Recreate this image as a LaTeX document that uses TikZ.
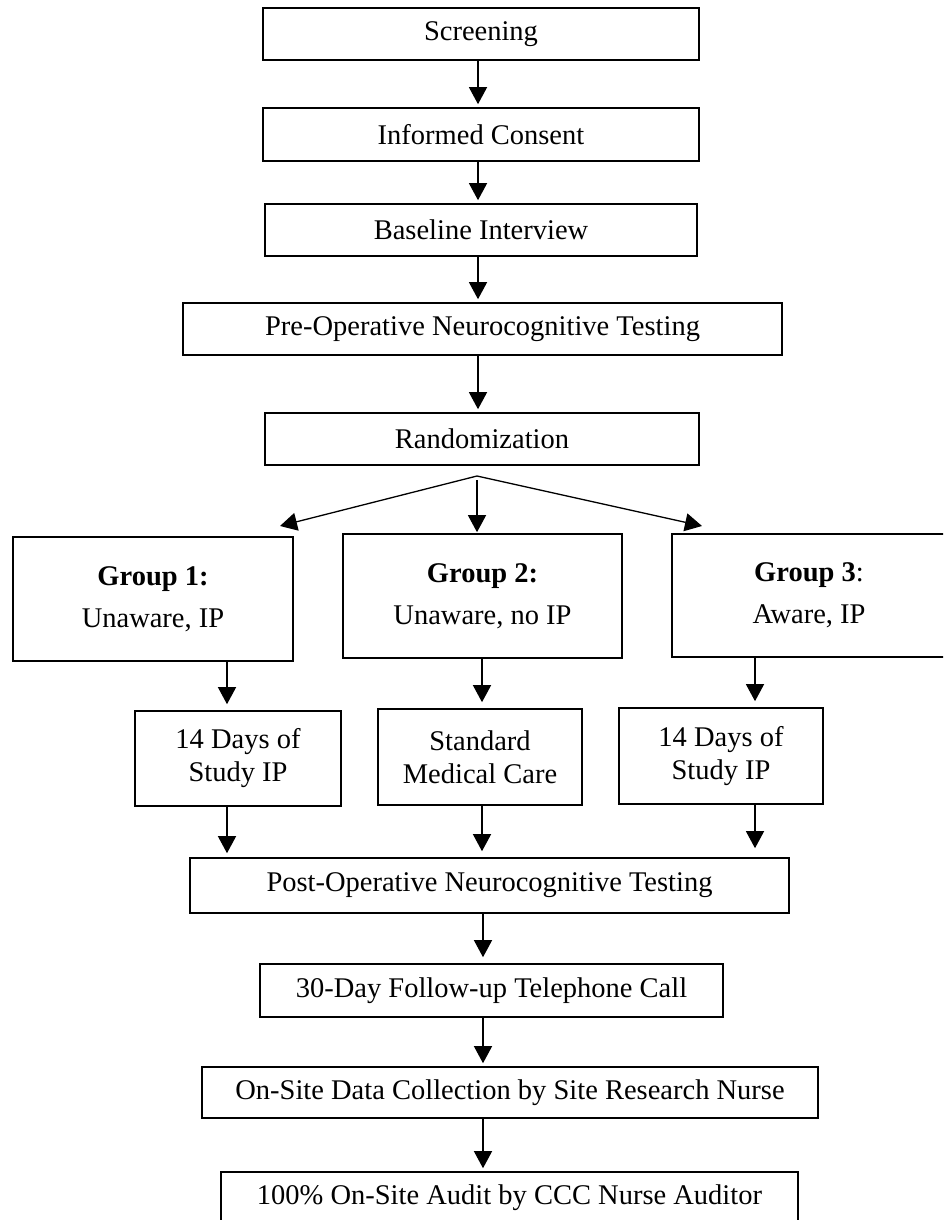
\documentclass[tikz,border=0pt]{standalone}
\usepackage{fontspec}
\setmainfont{Liberation Serif}
\usetikzlibrary{arrows.meta}
\tikzset{
  box/.style={draw, line width=1.6pt, inner sep=0pt, align=center,
    font=\fontsize{28.5}{33}\selectfont},
  grp/.style={box, font=\fontsize{28.5}{42}\selectfont},
  arr/.style={line width=1.3pt, -{Triangle[width=18pt,length=17pt]}, shorten >=3pt},
}
\begin{document}
\begin{tikzpicture}[x=1pt,y=-1pt]
\useasboundingbox (0,0) rectangle (943,1220);
\clip (0,0) rectangle (943,1220);
% main column
\node[box, minimum width=436pt, minimum height=52pt] (scr) at (481,34) {Screening};
\node[box, minimum width=436pt, minimum height=53pt] (ic) at (481,134.5) {Informed Consent};
\node[box, minimum width=432pt, minimum height=52pt] (base) at (481,230) {Baseline Interview};
\node[box, minimum width=599pt, minimum height=52pt] (pre) at (482.5,329) {Pre-Operative Neurocognitive Testing};
\node[box, minimum width=434pt, minimum height=52pt] (rand) at (482,439) {Randomization};
% groups
\node[grp, minimum width=280pt, minimum height=124pt] (g1) at (153,599) {\textbf{Group 1:}\\Unaware, IP};
\node[grp, minimum width=279pt, minimum height=124pt] (g2) at (482.5,596) {\textbf{Group 2:}\\Unaware, no IP};
\node[grp, minimum width=274pt, minimum height=123pt] (g3) at (809,595.5) {\textbf{Group 3}:\\Aware, IP};
% treatments
\node[box, minimum width=206pt, minimum height=95pt] (d1) at (238,758.5) {14 Days of\\Study IP};
\node[box, minimum width=204pt, minimum height=96pt] (smc) at (480,757) {Standard\\Medical Care};
\node[box, minimum width=204pt, minimum height=96pt] (d3) at (721,756) {14 Days of\\Study IP};
% lower column
\node[box, minimum width=599pt, minimum height=55pt] (post) at (489.5,885.5) {Post-Operative Neurocognitive Testing};
\node[box, minimum width=463pt, minimum height=53pt] (call) at (491.5,990.5) {30-Day Follow-up Telephone Call};
\node[box, minimum width=616pt, minimum height=51pt] (site) at (510,1092.5) {On-Site Data Collection by Site Research Nurse};
\node[box, minimum width=577pt, minimum height=52pt] (audit) at (509.5,1198) {100\% On-Site Audit by CCC Nurse Auditor};
% connector coordinates
\coordinate (ax) at (478,0);
\coordinate (bx) at (483,0);
\coordinate (apex) at (477,476);
\coordinate (t1) at (280,526);
\coordinate (t3) at (702,526);
\coordinate (x1) at (227,0);
\coordinate (x2) at (482,0);
\coordinate (x3) at (755,0);
% connectors
\draw[arr] (scr.south -| ax) -- (ic.north -| ax);
\draw[arr] (ic.south -| ax) -- (base.north -| ax);
\draw[arr] (base.south -| ax) -- (pre.north -| ax);
\draw[arr] (pre.south -| ax) -- (rand.north -| ax);
\draw[arr, shorten >=0pt] (apex) -- (t1);
\draw[arr, shorten >=0pt] (apex) -- (t3);
\draw[arr, shorten >=1pt] ([yshift=-4pt]apex) -- (g2.north -| apex);
\draw[arr, shorten >=6pt] (g1.south -| x1) -- (d1.north -| x1);
\draw[arr, shorten >=6pt] (g2.south -| x2) -- (smc.north -| x2);
\draw[arr, shorten >=6pt] (g3.south -| x3) -- (d3.north -| x3);
\draw[arr, shorten >=4pt] (d1.south -| x1) -- (post.north -| x1);
\draw[arr, shorten >=6pt] (smc.south -| x2) -- (post.north -| x2);
\draw[arr, shorten >=9pt] (d3.south -| x3) -- (post.north -| x3);
\draw[arr, shorten >=6pt] (post.south -| bx) -- (call.north -| bx);
\draw[arr] (call.south -| bx) -- (site.north -| bx);
\draw[arr] (site.south -| bx) -- (audit.north -| bx);
\end{tikzpicture}
\end{document}
